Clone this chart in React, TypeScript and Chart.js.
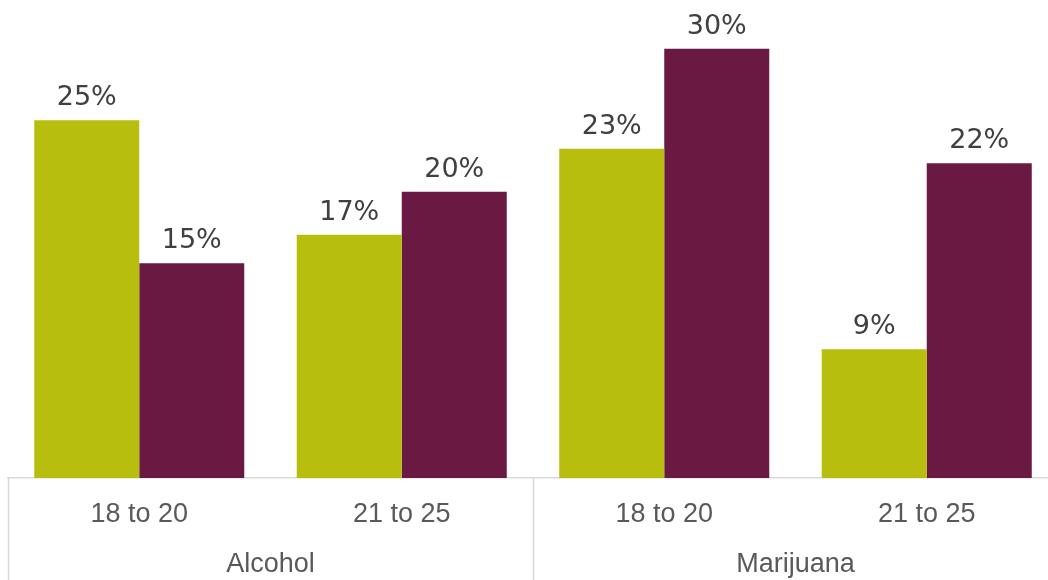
import React, { useEffect, useRef } from "react";
import { Chart, registerables } from "chart.js";

Chart.register(...registerables);

const ageGroups = ["18 to 20", "21 to 25", "18 to 20", "21 to 25"];
const substances = ["Alcohol", "Marijuana"];
const seriesA = [25, 17, 23, 9];
const seriesB = [15, 20, 30, 22];
const seriesNames = ["Series A", "Series B"];

const GREEN = "#b7be0e";
const MAROON = "#6a1a42";
const LINE = "#d9d9d9";

const groupPlugin = {
  id: "groupPlugin",
  afterDatasetsDraw(chart: any) {
    const ctx = chart.ctx;
    // data labels
    ctx.save();
    ctx.fillStyle = "#404040";
    ctx.font = "27px 'DejaVu Sans'";
    ctx.textAlign = "center";
    ctx.textBaseline = "alphabetic";
    chart.data.datasets.forEach((ds: any, di: number) => {
      const meta = chart.getDatasetMeta(di);
      meta.data.forEach((el: any, i: number) => {
        ctx.fillText(ds.data[i] + "%", el.x, el.y - 15);
      });
    });
    ctx.restore();

    // group separators and group labels
    const xs = chart.scales.x;
    const area = chart.chartArea;
    const bottom = chart.height;
    const n = ageGroups.length;
    const per = n / substances.length;
    ctx.save();
    ctx.strokeStyle = LINE;
    ctx.lineWidth = 1.5;
    ctx.fillStyle = "#595959";
    ctx.font = "27px 'Liberation Sans'";
    ctx.textAlign = "center";
    ctx.textBaseline = "middle";
    const step = xs.getPixelForValue(1) - xs.getPixelForValue(0);
    substances.forEach((s: string, g: number) => {
      const left = xs.getPixelForValue(g * per) - step / 2;
      const right = xs.getPixelForValue(g * per + per - 1) + step / 2;
      ctx.beginPath();
      ctx.moveTo(Math.round(left) + 0.5, area.bottom);
      ctx.lineTo(Math.round(left) + 0.5, bottom);
      ctx.stroke();
      ctx.fillText(s, (left + right) / 2, 565);
    });
    ctx.restore();
  },
};

export default function App() {
  const ref = useRef<HTMLCanvasElement | null>(null);
  useEffect(() => {
    if (!ref.current) return;
    const chart = new Chart(ref.current, {
      type: "bar",
      data: {
        labels: ageGroups,
        datasets: [
          { label: seriesNames[0], data: seriesA, backgroundColor: GREEN },
          { label: seriesNames[1], data: seriesB, backgroundColor: MAROON },
        ],
      },
      options: {
        responsive: false,
        animation: false,
        devicePixelRatio: 1,
        layout: { padding: { left: 8, right: 2, top: 0, bottom: 0 } },
        plugins: { legend: { display: false }, tooltip: { enabled: false } },
        scales: {
          y: { display: false, min: 0, max: 33.4 },
          x: {
            grid: { display: false, drawTicks: false },
            border: { display: true, color: LINE, width: 1.5 },
            ticks: {
              color: "#595959",
              font: { family: "'Liberation Sans'", size: 27 },
              padding: 20,
              maxRotation: 0,
            },
            afterFit(scale: any) {
              scale.height = 102;
            },
          },
        },
        datasets: {
          bar: { categoryPercentage: 0.8, barPercentage: 1.0 },
        },
      },
      plugins: [groupPlugin],
    });
    return () => chart.destroy();
  }, []);
  return (
    <div
      style={{
        position: "fixed",
        left: 0,
        top: 0,
        width: 1048,
        height: 580,
        overflow: "hidden",
        background: "#fff",
      }}
    >
      <canvas ref={ref} width={1060} height={580} style={{ width: 1060, height: 580, display: "block" }} />
    </div>
  );
}
